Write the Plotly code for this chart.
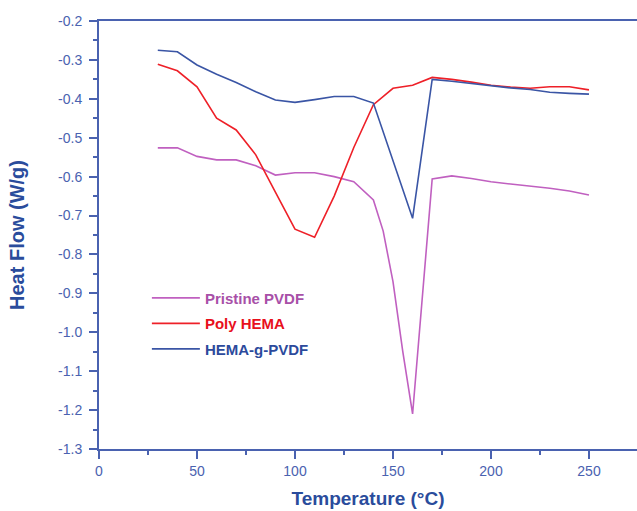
import plotly.graph_objects as go

# ---- data ----
pvdf_x = [30, 40, 50, 60, 70, 80, 90, 100, 110, 120, 130, 140, 145, 150, 155, 160,
          170, 180, 190, 200, 210, 220, 230, 240, 250]
pvdf_y = [-0.526, -0.526, -0.548, -0.557, -0.557, -0.572, -0.596, -0.590, -0.590, -0.600,
          -0.613, -0.660, -0.740, -0.870, -1.050, -1.210,
          -0.606, -0.598, -0.605, -0.613, -0.619, -0.624, -0.630, -0.637, -0.647]

hema_x = [30, 40, 50, 60, 70, 80, 90, 100, 110, 120, 130, 140, 150, 160, 170, 180,
          190, 200, 210, 220, 230, 240, 250]
hema_y = [-0.311, -0.328, -0.369, -0.450, -0.480, -0.544, -0.640, -0.735, -0.756, -0.650,
          -0.525, -0.415, -0.373, -0.365, -0.345, -0.350, -0.357, -0.365, -0.370, -0.373,
          -0.369, -0.369, -0.377]

graft_x = [30, 40, 50, 60, 70, 80, 90, 100, 110, 120, 130, 140, 160, 170, 180, 190,
           200, 210, 220, 230, 240, 250]
graft_y = [-0.275, -0.279, -0.313, -0.337, -0.358, -0.382, -0.403, -0.409, -0.402, -0.394,
           -0.394, -0.411, -0.707, -0.350, -0.355, -0.361, -0.367, -0.372, -0.376, -0.383,
           -0.386, -0.388]

series_names = ["Pristine PVDF", "Poly HEMA", "HEMA-g-PVDF"]
x_ticks = [0, 50, 100, 150, 200, 250]
y_ticks = [-0.2, -0.3, -0.4, -0.5, -0.6, -0.7, -0.8, -0.9, -1.0, -1.1, -1.2, -1.3]
y_ticklabels = ["-0.2", "-0.3", "-0.4", "-0.5", "-0.6", "-0.7", "-0.8", "-0.9",
                "-1.0", "-1.1", "-1.2", "-1.3"]

# ---- style ----
axis_col = "#4a62b0"
title_col = "#2a4c9c"
line_cols = ["#c060c0", "#ee2028", "#3a55a5"]
text_cols = ["#a850a8", "#e8101c", "#2c4a9c"]

fig = go.Figure()
for i, (xs, ys, name, lc, tc) in enumerate([
    (pvdf_x, pvdf_y, series_names[0], line_cols[0], text_cols[0]),
    (hema_x, hema_y, series_names[1], line_cols[1], text_cols[1]),
    (graft_x, graft_y, series_names[2], line_cols[2], text_cols[2]),
]):
    fig.add_trace(go.Scatter(
        x=xs, y=ys, mode="lines",
        line=dict(color=lc, width=1.6),
        legendgroup=f"g{i}",
        name=f"<span style='color:{tc}'><b>{name}</b></span>",
    ))

fig.update_layout(
    width=637, height=511,
    margin=dict(l=99, r=0, t=21, b=62),
    paper_bgcolor="white", plot_bgcolor="white",
    font=dict(family="Liberation Sans, Arial, sans-serif", color=axis_col, size=14),
    showlegend=True,
    legend=dict(
        x=0.089, y=0.391, xanchor="left", yanchor="top",
        bgcolor="rgba(0,0,0,0)",
        font=dict(size=15, family="Liberation Sans, Arial, sans-serif"),
        tracegroupgap=3, itemwidth=48,
    ),
)

fig.update_xaxes(
    range=[0, 274.5], automargin=False,
    tickvals=x_ticks, ticktext=[str(v) for v in x_ticks],
    showline=True, linecolor=axis_col, linewidth=2, mirror=True,
    ticks="outside", ticklen=8, tickwidth=2, tickcolor=axis_col,
    minor=dict(dtick=25, tick0=0, ticks="outside", ticklen=4, tickwidth=2, tickcolor=axis_col),
    showgrid=False, zeroline=False,
    tickfont=dict(size=14, color=axis_col),
    title=dict(text="<b>Temperature (°C)</b>", font=dict(size=19, color=title_col), standoff=14),
)
fig.update_yaxes(
    range=[-1.3, -0.2], automargin=False,
    tickvals=y_ticks, ticktext=y_ticklabels,
    showline=True, linecolor=axis_col, linewidth=2, mirror=True,
    ticks="outside", ticklen=8, tickwidth=2, tickcolor=axis_col, ticklabelstandoff=4,
    minor=dict(dtick=0.05, tick0=-0.2, ticks="outside", ticklen=4, tickwidth=2, tickcolor=axis_col),
    showgrid=False, zeroline=False,
    tickfont=dict(size=14, color=axis_col),
    title=dict(text="<b>Heat Flow (W/g)</b>", font=dict(size=20, color=title_col), standoff=28),
)

fig.write_html(
    "out.html",
    config={"displayModeBar": False},
    post_script="document.body.style.margin='0';document.body.style.overflow='hidden';",
)
